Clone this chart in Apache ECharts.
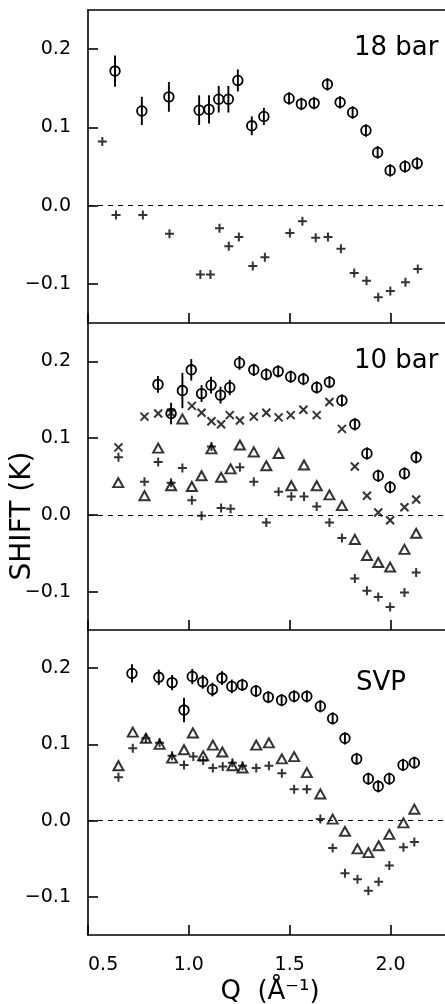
<!DOCTYPE html>
<html>
<head>
<meta charset="utf-8">
<script src="https://cdn.jsdelivr.net/npm/echarts@6/dist/echarts.min.js"></script>
<style>
  html, body { margin: 0; padding: 0; background: #fff; }
  #main { width: 445px; height: 1004px; }
</style>
</head>
<body>
<div id="main"></div>
<script>
// tick values
var yTicks = [-0.1, 0.0, 0.1, 0.2];
var xTicks = [0.5, 1.0, 1.5, 2.0];

// 18 bar
var q18Circ = [0.634, 0.767, 0.901, 1.051, 1.100, 1.148, 1.196, 1.243, 1.312, 1.372, 1.497, 1.558, 1.621, 1.687, 1.750, 1.812, 1.878, 1.936, 1.998, 2.072, 2.132];
var s18Circ = [0.172, 0.121, 0.139, 0.122, 0.123, 0.136, 0.136, 0.160, 0.102, 0.114, 0.137, 0.130, 0.131, 0.155, 0.132, 0.119, 0.096, 0.068, 0.045, 0.050, 0.054];
var e18Circ = [0.020, 0.018, 0.019, 0.019, 0.018, 0.017, 0.017, 0.014, 0.012, 0.011, 0.008, 0.008, 0.008, 0.008, 0.008, 0.008, 0.008, 0.008, 0.008, 0.008, 0.008];
var q18Plus = [0.571, 0.639, 0.772, 0.904, 1.057, 1.107, 1.152, 1.198, 1.248, 1.317, 1.377, 1.501, 1.563, 1.629, 1.690, 1.754, 1.820, 1.881, 1.939, 1.999, 2.074, 2.135];
var s18Plus = [0.082, -0.012, -0.012, -0.036, -0.088, -0.088, -0.029, -0.052, -0.040, -0.077, -0.066, -0.035, -0.020, -0.041, -0.040, -0.055, -0.086, -0.096, -0.117, -0.109, -0.098, -0.081];

// 10 bar
var q10Circ = [0.847, 0.912, 0.968, 1.012, 1.063, 1.110, 1.157, 1.203, 1.251, 1.322, 1.384, 1.443, 1.505, 1.568, 1.634, 1.697, 1.759, 1.823, 1.883, 1.939, 1.998, 2.069, 2.127];
var s10Circ = [0.170, 0.132, 0.162, 0.189, 0.158, 0.169, 0.156, 0.166, 0.198, 0.189, 0.183, 0.187, 0.180, 0.177, 0.166, 0.173, 0.149, 0.118, 0.080, 0.051, 0.036, 0.054, 0.075];
var e10Circ = [0.011, 0.014, 0.023, 0.014, 0.011, 0.011, 0.011, 0.010, 0.009, 0.008, 0.008, 0.008, 0.008, 0.008, 0.008, 0.008, 0.008, 0.008, 0.008, 0.008, 0.008, 0.008, 0.008];
var q10Cross = [0.651, 0.780, 0.848, 0.912, 1.015, 1.063, 1.112, 1.160, 1.203, 1.253, 1.322, 1.384, 1.445, 1.505, 1.568, 1.634, 1.697, 1.759, 1.823, 1.883, 1.939, 1.998, 2.069, 2.127];
var s10Cross = [0.088, 0.128, 0.132, 0.133, 0.142, 0.133, 0.122, 0.118, 0.130, 0.123, 0.128, 0.133, 0.127, 0.130, 0.137, 0.130, 0.147, 0.112, 0.063, 0.025, 0.003, -0.007, 0.010, 0.020];
var q10Tri = [0.650, 0.780, 0.848, 0.912, 0.968, 1.015, 1.063, 1.112, 1.160, 1.207, 1.253, 1.322, 1.384, 1.445, 1.508, 1.571, 1.634, 1.697, 1.759, 1.823, 1.883, 1.939, 1.998, 2.069, 2.127];
var s10Tri = [0.042, 0.025, 0.087, 0.038, 0.125, 0.037, 0.051, 0.086, 0.049, 0.060, 0.091, 0.082, 0.064, 0.080, 0.038, 0.065, 0.038, 0.026, 0.012, -0.032, -0.053, -0.062, -0.068, -0.045, -0.024];
var q10Plus = [0.651, 0.780, 0.848, 0.912, 0.968, 1.015, 1.063, 1.112, 1.160, 1.207, 1.253, 1.322, 1.384, 1.445, 1.508, 1.571, 1.634, 1.697, 1.759, 1.823, 1.883, 1.939, 1.998, 2.069, 2.127];
var s10Plus = [0.075, 0.043, 0.069, 0.042, 0.061, 0.019, -0.001, 0.089, 0.009, 0.008, 0.062, 0.043, -0.010, 0.030, 0.024, 0.024, 0.011, -0.010, -0.030, -0.083, -0.099, -0.107, -0.120, -0.101, -0.075];

// SVP
var qSvpCirc = [0.718, 0.851, 0.917, 0.976, 1.017, 1.069, 1.117, 1.164, 1.213, 1.265, 1.333, 1.394, 1.460, 1.522, 1.585, 1.652, 1.713, 1.774, 1.832, 1.890, 1.939, 1.994, 2.062, 2.118];
var sSvpCirc = [0.193, 0.188, 0.181, 0.145, 0.189, 0.182, 0.172, 0.187, 0.176, 0.178, 0.170, 0.162, 0.158, 0.163, 0.163, 0.150, 0.134, 0.108, 0.081, 0.055, 0.045, 0.055, 0.073, 0.076];
var eSvpCirc = [0.012, 0.010, 0.010, 0.016, 0.010, 0.009, 0.009, 0.009, 0.009, 0.008, 0.008, 0.008, 0.008, 0.008, 0.008, 0.008, 0.008, 0.008, 0.008, 0.008, 0.008, 0.008, 0.008, 0.008];
var qSvpTri = [0.651, 0.722, 0.787, 0.855, 0.917, 0.976, 1.020, 1.071, 1.119, 1.166, 1.216, 1.266, 1.334, 1.397, 1.461, 1.522, 1.585, 1.652, 1.713, 1.774, 1.836, 1.890, 1.941, 1.994, 2.064, 2.118];
var sSvpTri = [0.072, 0.116, 0.108, 0.100, 0.082, 0.093, 0.115, 0.085, 0.099, 0.090, 0.072, 0.069, 0.099, 0.102, 0.081, 0.084, 0.063, 0.035, 0.002, -0.014, -0.037, -0.042, -0.033, -0.018, -0.003, 0.015];
var qSvpPlus = [0.651, 0.722, 0.787, 0.855, 0.917, 0.976, 1.022, 1.071, 1.119, 1.168, 1.216, 1.266, 1.334, 1.397, 1.461, 1.522, 1.585, 1.652, 1.713, 1.774, 1.836, 1.890, 1.941, 1.994, 2.064, 2.118];
var sSvpPlus = [0.057, 0.095, 0.108, 0.102, 0.085, 0.073, 0.084, 0.079, 0.069, 0.071, 0.076, 0.072, 0.069, 0.072, 0.062, 0.041, 0.041, 0.002, -0.036, -0.069, -0.077, -0.092, -0.080, -0.059, -0.035, -0.028];

var font = 'DejaVu Sans';
var myChart = echarts.init(document.getElementById('main'));

function pairs(q, s, e) {
    return q.map(function (x, i) { return e ? [x, s[i], e[i]] : [x, s[i]]; });
}

function yAxisFor(gi) {
    return {
        type: 'value', gridIndex: gi, min: -0.15, max: 0.25,
        axisLine: { show: true, onZero: false, lineStyle: { color: '#000', width: 1.6 } },
        axisTick: { show: true, inside: true, length: 10, customValues: yTicks, lineStyle: { color: '#000', width: 1.6 } },
        axisLabel: {
            customValues: yTicks, margin: 17, color: '#000', fontSize: 19, fontFamily: font,
            formatter: function (v) { return (v < -1e-9 ? '\u2212' : '') + Math.abs(v).toFixed(1); }
        },
        splitLine: { show: false }
    };
}

function xAxisFor(gi, showLabels) {
    return {
        type: 'value', gridIndex: gi, min: 0.5, max: 2.27, position: 'bottom',
        axisLine: { show: true, onZero: false, lineStyle: { color: '#000', width: 1.6 } },
        axisTick: { show: true, inside: true, length: 10, customValues: xTicks, lineStyle: { color: '#000', width: 1.6 } },
        axisLabel: {
            show: showLabels, customValues: xTicks, margin: 21, color: '#000', fontSize: 19, fontFamily: font,
            alignMinLabel: 'left',
            formatter: function (v) { return v.toFixed(1); }
        },
        splitLine: { show: false }
    };
}

// top frame line of the first panel
var topFrame = {
    type: 'value', gridIndex: 0, min: 0.5, max: 2.27, position: 'top',
    axisLine: { show: true, onZero: false, lineStyle: { color: '#000', width: 1.6 } },
    axisTick: { show: false }, axisLabel: { show: false }, splitLine: { show: false }
};

function circleSeries(gi, data) {
    return {
        type: 'custom', xAxisIndex: gi, yAxisIndex: gi, data: data,
        encode: { x: 0, y: 1 },
        renderItem: function (params, api) {
            var x = api.value(0), y = api.value(1), e = api.value(2);
            var c = api.coord([x, y]);
            var top = api.coord([x, y + e]);
            var bot = api.coord([x, y - e]);
            return {
                type: 'group',
                children: [
                    { type: 'line', shape: { x1: c[0], y1: top[1], x2: c[0], y2: bot[1] }, style: { stroke: '#000', lineWidth: 1.9 } },
                    { type: 'circle', shape: { cx: c[0], cy: c[1], r: 4.8 }, style: { fill: 'none', stroke: '#000', lineWidth: 1.8 } }
                ]
            };
        }
    };
}

var plusPath = 'path://M0,5L10,5M5,0L5,10';
var crossPath = 'path://M0,0L10,10M10,0L0,10';

function markSeries(gi, data, symbol, size) {
    return {
        type: 'scatter', xAxisIndex: gi, yAxisIndex: gi, data: data,
        symbol: symbol, symbolSize: size,
        itemStyle: { color: 'rgba(0,0,0,0)', borderColor: '#000', borderWidth: 2 }
    };
}

function zeroLine(series) {
    series.markLine = {
        silent: true, symbol: ['none', 'none'], label: { show: false },
        lineStyle: { type: [5, 5], color: '#000', width: 1.2 },
        data: [{ yAxis: 0 }]
    };
    return series;
}

var option = {
    animation: false,
    backgroundColor: '#fff',
    grid: [
        { left: 88, right: 0, top: 10, height: 313 },
        { left: 88, right: 0, top: 323, height: 307 },
        { left: 88, right: 0, top: 630, height: 305 }
    ],
    xAxis: [xAxisFor(0, false), xAxisFor(1, false), xAxisFor(2, true), topFrame],
    yAxis: [yAxisFor(0), yAxisFor(1), yAxisFor(2)],
    graphic: [
        { type: 'text', x: 354, y: 48, style: { text: '18 bar', fontSize: 26, fontFamily: font, fill: '#000', verticalAlign: 'middle' } },
        { type: 'text', x: 354, y: 361, style: { text: '10 bar', fontSize: 26, fontFamily: font, fill: '#000', verticalAlign: 'middle' } },
        { type: 'text', x: 356, y: 683, style: { text: 'SVP', fontSize: 26, fontFamily: font, fill: '#000', verticalAlign: 'middle' } },
        { type: 'text', x: 23, y: 516, rotation: Math.PI / 2, style: { text: 'SHIFT (K)', fontSize: 28, fontFamily: font, fill: '#000', align: 'center', verticalAlign: 'middle' } },
        { type: 'text', x: 270, y: 992, style: { text: 'Q  (\u00C5\u207B\u00B9)', fontSize: 26, fontFamily: font, fill: '#000', align: 'center', verticalAlign: 'middle' } }
    ],
    series: [
        zeroLine(markSeries(0, pairs(q18Plus, s18Plus), plusPath, 9)),
        circleSeries(0, pairs(q18Circ, s18Circ, e18Circ)),

        markSeries(1, pairs(q10Tri, s10Tri), 'triangle', [10, 9]),
        zeroLine(markSeries(1, pairs(q10Plus, s10Plus), plusPath, 9)),
        markSeries(1, pairs(q10Cross, s10Cross), crossPath, 8),
        circleSeries(1, pairs(q10Circ, s10Circ, e10Circ)),

        markSeries(2, pairs(qSvpTri, sSvpTri), 'triangle', [10, 9]),
        zeroLine(markSeries(2, pairs(qSvpPlus, sSvpPlus), plusPath, 9)),
        circleSeries(2, pairs(qSvpCirc, sSvpCirc, eSvpCirc))
    ]
};

myChart.setOption(option);
</script>
</body>
</html>
